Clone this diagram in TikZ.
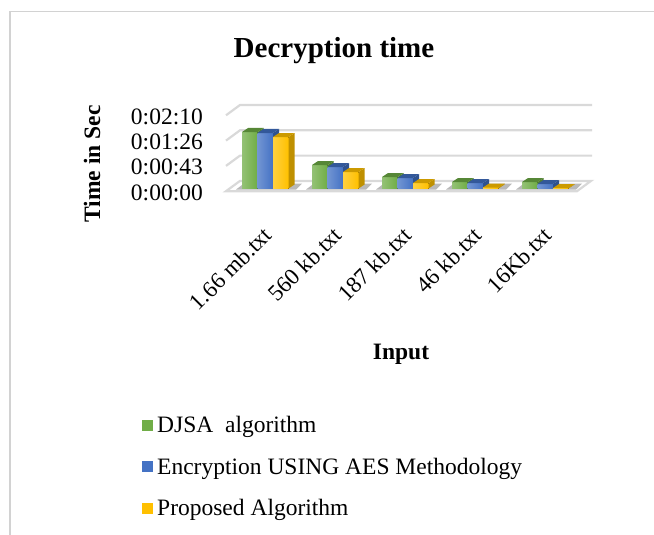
\documentclass[tikz,border=0pt]{standalone}
\usepackage{fontspec}
\setmainfont{Liberation Serif}
\usetikzlibrary{positioning}
\definecolor{djsa}{HTML}{70AD47}
\definecolor{djsadark}{HTML}{507E32}
\definecolor{aes}{HTML}{4472C4}
\definecolor{aesdark}{HTML}{2F528F}
\definecolor{prop}{HTML}{FFC000}
\definecolor{propdark}{HTML}{BF9000}
\definecolor{gridgray}{HTML}{D9D9D9}

\tikzset{
  ticklabel/.style={font=\fontsize{23.5}{28}\selectfont},
  axistitle/.style={font=\fontsize{23.5}{28}\selectfont\bfseries},
  catlabel/.style={font=\fontsize{23}{28}\selectfont, rotate=45, anchor=east, inner sep=0pt},
  gridline/.style={draw=gridgray, line width=2.2pt},
}

% one 3d column: left x, height, face colour, shade colour
\newcommand{\chartbar}[4]{
  \fill[left color=#3!75!white, right color=#3] (#1,188.5) rectangle +(15.5,-#2);
  \fill[#4] (#1+15.5,188.5) -- +(6,-4) -- +(6,-#2-4) -- +(0,-#2) -- cycle;
  \fill[#4!80!#3] (#1,188.5-#2) -- +(6,-4) -- +(21.5,-4) -- +(15.5,0) -- cycle;
}

\begin{document}
\begin{tikzpicture}[x=1pt, y=-1pt]
    \useasboundingbox (0,0) rectangle (654,535);

    % chart frame
    \draw[gray!35, line width=1.5pt] (10,535) -- (10,11.5) -- (654,11.5);

    \node (title) [font=\fontsize{29}{34}\selectfont\bfseries, anchor=base] at (334,58) {Decryption time};

    % walls
    \foreach \v in {1, 2, 3} {
      \draw[gridline] (226, {191.2-25.3*\v}) -- +(14,-10.3) -- +(366,-10.3);
    }
    \filldraw[fill=white, gridline] (226,191.2) -- (577,191.2) -- (591,180.9) -- (240,180.9) -- cycle;

    \foreach \v/\t in {0/0:00:00, 1/0:00:43, 2/0:01:26, 3/0:02:10} {
      \node (tick\v) [ticklabel, anchor=east, inner sep=0pt] at (203, {192.5-25.3*\v}) {\t};
    }

    % columns, one group per input file
    \foreach \g/\a/\b/\c in {0/56.5/55.5/51.5, 1/23.5/21.5/16.5, 2/11.5/10.5/5.5, 3/6.5/5.5/1, 4/6.5/4.5/0.5} {
      \fill[gray!55] ({236+70*\g},189.5) -- +(60,0) -- +(66,-6) -- +(8,-6) -- cycle;
      \chartbar{242+70*\g}{\a}{djsa}{djsadark}
      \chartbar{257.5+70*\g}{\b}{aes}{aesdark}
      \chartbar{273+70*\g}{\c}{prop}{propdark}
    }

    \foreach \g/\t in {0/1.66 mb.txt, 1/560 kb.txt, 2/187 kb.txt, 3/46 kb.txt, 4/16Kb.txt} {
      \node (cat\g) [catlabel] at ({268+70*\g}, 231) {\t};
    }

    \node (ytitle) [axistitle, rotate=90, anchor=base] at (100,164) {Time in Sec};
    \node (xtitle) [axistitle, anchor=base] at (401,359) {Input};

    % legend
    \foreach \i/\c/\t in {0/djsa/DJSA\ \ algorithm, 1/aes/Encryption USING AES Methodology, 2/prop/Proposed Algorithm} {
      \fill[\c] (142, {419.5+41.5*\i}) rectangle +(11,11);
      \node (key\i) [ticklabel, anchor=base west, inner sep=0pt] at (157, {432.5+41.5*\i}) {\t};
    }
\end{tikzpicture}
\end{document}
